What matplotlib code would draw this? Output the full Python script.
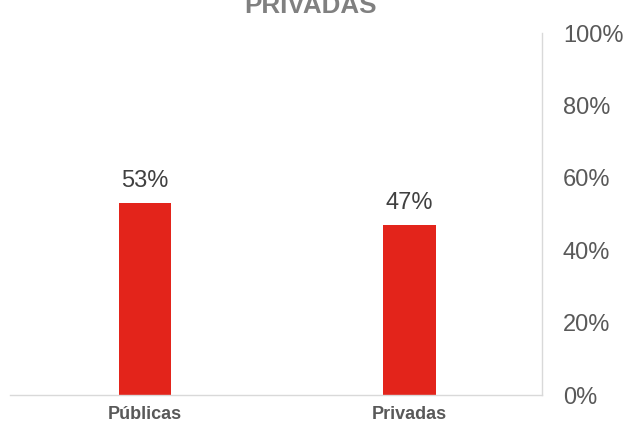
import matplotlib
matplotlib.use("Agg")
import matplotlib.pyplot as plt

categories = ["Públicas", "Privadas"]
values = [53, 47]
yticks = [0, 20, 40, 60, 80, 100]
title = "PRIVADAS"

plt.rcParams['font.family'] = ['Liberation Sans', 'DejaVu Sans']

fig = plt.figure(figsize=(6.25, 4.23), dpi=100)
ax = fig.add_axes([10/625, 1 - 395/423, 532/625, 362/423])

x = list(range(len(categories)))
bars = ax.bar(x, values, width=0.2, color="#e3241b", zorder=2)
ax.set_xlim(-0.51, len(categories) - 0.5)
ax.set_ylim(0, 100)

for xi, v in zip(x, values):
    ax.annotate(f"{v}%", (xi, v), xytext=(0, 8), textcoords="offset points",
                ha="center", va="bottom", fontsize=17, color="#404040")

ax.yaxis.tick_right()
ax.set_yticks(yticks)
ax.set_yticklabels([f"{t}%" for t in yticks], fontsize=17, color="#595959")
ax.tick_params(axis="y", length=0, pad=15)
ax.set_xticks(x)
ax.set_xticklabels(categories, fontsize=13, fontweight="bold", color="#595959")
ax.tick_params(axis="x", length=0, pad=8)

for s in ["top", "left"]:
    ax.spines[s].set_visible(False)
for s in ["right", "bottom"]:
    ax.spines[s].set_color("#d9d9d9")
    ax.spines[s].set_linewidth(1)

fig.text(310/625, 1 - 13/423, title, ha="center", va="baseline",
         fontsize=18.7, fontweight="bold", color="#808080")

fig.savefig("out.png", dpi=100)
